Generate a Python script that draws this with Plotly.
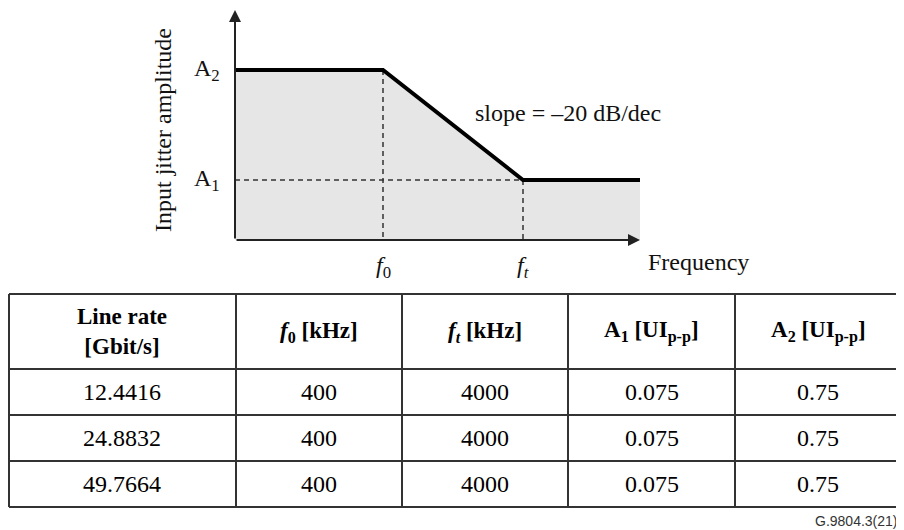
import numpy as np
import plotly.graph_objects as go

## table data
line_rate = ["12.4416", "24.8832", "49.7664"]
f0_khz = [400, 400, 400]
ft_khz = [4000, 4000, 4000]
a1_uipp = [0.075, 0.075, 0.075]
a2_uipp = [0.75, 0.75, 0.75]
headers = ["<b>Line rate<br>[Gbit/s]</b>",
           "<b><i>f</i><sub>0</sub> [kHz]</b>",
           "<b><i>f<sub>t</sub></i> [kHz]</b>",
           "<b>A<sub>1</sub> [UI<sub>p-p</sub>]</b>",
           "<b>A<sub>2</sub> [UI<sub>p-p</sub>]</b>"]

## mask corner points (log-log: one decade down per decade up = -20 dB/dec)
f0, ft = f0_khz[0], ft_khz[0]
A1, A2 = a1_uipp[0], a2_uipp[0]

W, H = 904, 530
OX, OY = 8, 8          # page body margin
SERIF = "Liberation Serif"
INK = "#111111"

def px(x):
    return (x - OX) / W

def py(y):
    return 1 - (y - OY) / H

# axis ranges in decades
xr = [np.log10(f0) - 148/140, np.log10(f0) - 148/140 + 405/140]
yr = [np.log10(A1) - 60/110, np.log10(A1) - 60/110 + 230/110]
fmin, fmax = 10**xr[0], 10**xr[1]
amin = 10**yr[0]

mask_x = [fmin, f0, ft, fmax]
mask_y = [A2, A2, A1, A1]

fig = go.Figure()

# grey area under mask
fig.add_trace(go.Scatter(x=mask_x + [fmax, fmin], y=mask_y + [amin, amin],
                         fill="toself", fillcolor="#e6e6e6", mode="none",
                         hoverinfo="skip", showlegend=False))
# dashed guides
dash = dict(color="#333333", width=1.5, dash="5px,4px")
fig.add_trace(go.Scatter(x=[f0, f0], y=[A2, amin], mode="lines", line=dash, showlegend=False))
fig.add_trace(go.Scatter(x=[ft, ft], y=[A1, amin], mode="lines", line=dash, showlegend=False))
fig.add_trace(go.Scatter(x=[fmin, ft], y=[A1, A1], mode="lines", line=dash, showlegend=False))
# mask
fig.add_trace(go.Scatter(x=mask_x, y=mask_y, mode="lines",
                         line=dict(color="black", width=4), showlegend=False))

fig.update_xaxes(type="log", range=xr, domain=[px(235), px(640)], visible=False)
fig.update_yaxes(type="log", range=yr, domain=[py(240), py(10)], visible=False)

# axes with arrows
arrow = dict(showarrow=True, arrowhead=2, arrowsize=1.2, arrowwidth=2,
             arrowcolor="#222222", axref="pixel", ayref="pixel", text="")
fig.add_annotation(x=xr[1], y=yr[0], ax=-405, ay=0, xref="x", yref="y", **arrow)
fig.add_annotation(x=xr[0], y=yr[1], ax=0, ay=230, xref="x", yref="y", **arrow)

lab = dict(family=SERIF, size=24, color=INK)
fig.add_annotation(x=xr[0], y=np.log10(A2), text="A<sub>2</sub>", showarrow=False,
                   xanchor="right", xshift=-13, font=lab)
fig.add_annotation(x=xr[0], y=np.log10(A1), text="A<sub>1</sub>", showarrow=False,
                   xanchor="right", xshift=-13, font=lab)
fig.add_annotation(x=np.log10(f0), y=yr[0], text="<i>f</i><sub>0</sub>", showarrow=False,
                   yanchor="middle", yshift=-27, font=lab)
fig.add_annotation(x=np.log10(ft), y=yr[0], text="<i>f<sub>t</sub></i>", showarrow=False,
                   yanchor="middle", yshift=-27, font=lab)
fig.add_annotation(x=xr[1], y=yr[0], text="Frequency", showarrow=False,
                   xanchor="left", xshift=6, yanchor="middle", yshift=-22, font=lab)
fig.add_annotation(x=px(473), y=py(113), xref="paper", yref="paper", text="slope = \u201320 dB/dec",
                   showarrow=False, xanchor="left", yanchor="middle", font=lab)
fig.add_annotation(x=px(163), y=py(130), xref="paper", yref="paper", text="Input jitter amplitude",
                   showarrow=False, textangle=-90, xanchor="center", yanchor="middle", font=lab)

# table grid
col_x = [9, 236, 402, 568, 735, 901]
row_y = [294, 369, 415, 461, 507]
grid = dict(color="#333333", width=2)
for cx in col_x:
    fig.add_shape(type="line", xref="paper", yref="paper", x0=px(cx), x1=px(cx),
                  y0=py(row_y[0]), y1=py(row_y[-1]), line=grid)
for ry in row_y:
    fig.add_shape(type="line", xref="paper", yref="paper", x0=px(col_x[0]), x1=px(col_x[-1]),
                  y0=py(ry), y1=py(ry), line=grid)

columns = [line_rate, f0_khz, ft_khz, a1_uipp, a2_uipp]
for j, (head, col) in enumerate(zip(headers, columns)):
    xc = px((col_x[j] + col_x[j+1]) / 2)
    fig.add_annotation(x=xc, y=py((row_y[0] + row_y[1]) / 2), xref="paper", yref="paper",
                       text=head, showarrow=False, xanchor="center", yanchor="middle",
                       font=dict(family=SERIF, size=23, color="black"))
    for i, v in enumerate(col):
        fig.add_annotation(x=xc, y=py((row_y[i+1] + row_y[i+2]) / 2), xref="paper", yref="paper",
                           text=str(v), showarrow=False, xanchor="center", yanchor="middle",
                           font=dict(family=SERIF, size=24, color="black"))

fig.add_annotation(x=px(900), y=py(521), xref="paper", yref="paper", text="G.9804.3(21)",
                   showarrow=False, xanchor="right", yanchor="middle",
                   font=dict(family="Liberation Sans", size=14, color="#333333"))

fig.update_layout(width=W, height=H, margin=dict(l=0, r=0, t=0, b=0),
                  plot_bgcolor="white", paper_bgcolor="white", showlegend=False)
fig.write_html("out.html")
